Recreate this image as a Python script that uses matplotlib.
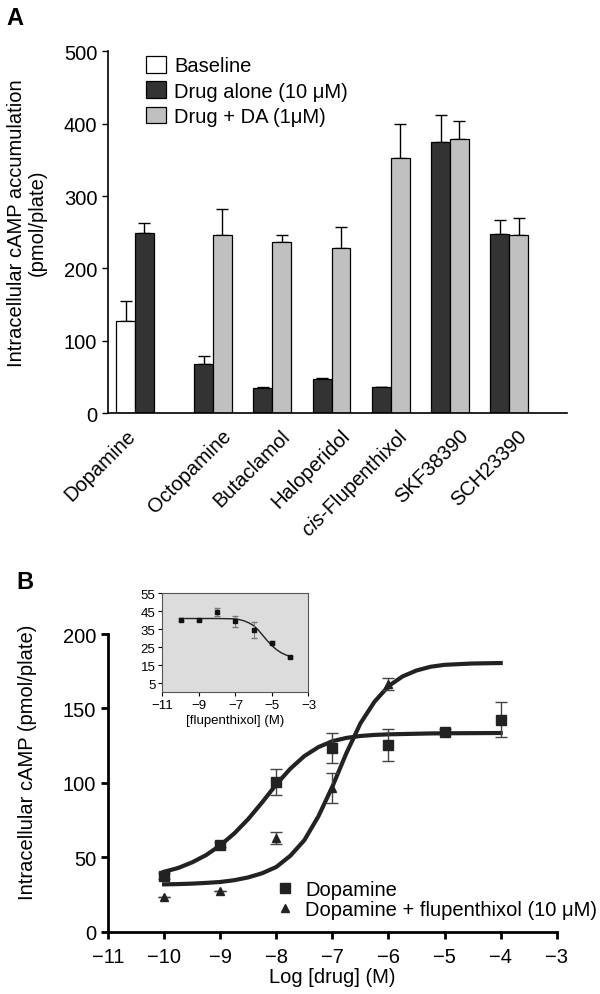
import numpy as np
import matplotlib
matplotlib.use("Agg")
import matplotlib.pyplot as plt
from matplotlib.lines import Line2D

plt.rcParams["font.family"] = ["Liberation Sans", "DejaVu Sans"]
plt.rcParams["mathtext.fontset"] = "custom"
plt.rcParams["mathtext.it"] = "Liberation Sans:italic"
plt.rcParams["mathtext.rm"] = "Liberation Sans"

FS = 14.5

# ---- panel A data ----
drugs = ["Dopamine", "Octopamine", "Butaclamol", "Haloperidol",
         r"$\it{cis}$-Flupenthixol", "SKF38390", "SCH23390"]
nan = np.nan
baseline = [127.5, nan, nan, nan, nan, nan, nan]
baseline_err = [27, nan, nan, nan, nan, nan, nan]
drug_alone = [248.5, 68, 34.5, 46.5, 35.5, 375, 247.5]
drug_alone_err = [14, 11.5, 1.5, 2, 0.5, 36.5, 19.5]
drug_da = [nan, 245.5, 236.5, 228, 352.5, 379, 245.5]
drug_da_err = [nan, 36.5, 10, 29, 46.5, 25, 24]

# ---- panel B data ----
log_conc = [-10, -9, -8, -7, -6, -5, -4]
da_mean = [37.5, 58.5, 100.5, 123.5, 125.5, 134.5, 142.5]
da_err = [2, 1.5, 8.5, 10, 11, 1.5, 12]
flu_conc = [-10, -9, -8, -7, -6]
flu_mean = [23, 27.5, 63, 96.5, 166.5]
flu_err = [0, 0, 4, 10, 4]

# fitted curves
fit_x = [-10, -9.75, -9.5, -9.25, -9, -8.75, -8.5, -8.25, -8, -7.75, -7.5,
         -7.25, -7, -6.75, -6.5, -6.25, -6, -5.75, -5.5, -5.25, -5, -4.5, -4]
da_fit = [40.3, 42.8, 46.6, 51.5, 58, 66, 75.7, 87, 99, 109.5, 118,
          124, 128, 130.2, 131.5, 132.2, 132.6, 132.8, 133, 133.2, 133.3,
          133.4, 133.5]
flu_fit = [31.8, 32, 32.3, 32.8, 33.4, 34.6, 36.5, 39.3, 43.5, 51, 61.5,
           77.5, 97.5, 120, 140, 154.5, 165, 171.5, 175.5, 178, 179.3,
           180.2, 180.5]

# ---- inset data ----
inset_conc = [-10, -9, -8, -7, -6, -5, -4]
inset_mean = [40.3, 40.0, 44.8, 39.4, 34.6, 27.6, 19.4]
inset_err = [0.8, 0.5, 2.3, 3, 4.6, 0.8, 0.5]
inset_fit_x = [-10, -9, -8, -7, -6.75, -6.5, -6.25, -6, -5.75, -5.5, -5.25,
               -5, -4.75, -4.5, -4.25, -4]
inset_fit = [41, 41, 41, 40.8, 40.3, 39.6, 38.5, 37, 34.6, 31.6, 28.6,
             25.9, 23.7, 22, 20.8, 19.9]

fig = plt.figure(figsize=(6, 9.95), dpi=100)

# ================= Panel A =================
axA = fig.add_axes([0.1795, 0.5839, 0.765, 0.3635])
w = 0.318
x = np.arange(len(drugs))
bar_kw = dict(width=w, edgecolor="black", linewidth=0.9, zorder=2)
axA.bar(x - w, baseline, color="white", label="Baseline", **bar_kw)
axA.bar(x, drug_alone, color="#333333", label="Drug alone (10 \u03bcM)", **bar_kw)
axA.bar(x + w, drug_da, color="#c0c0c0", label="Drug + DA (1\u03bcM)", **bar_kw)
for pos, vals, errs in [(x - w, baseline, baseline_err),
                        (x, drug_alone, drug_alone_err),
                        (x + w, drug_da, drug_da_err)]:
    errs = np.array(errs, dtype=float)
    axA.errorbar(pos, vals, yerr=[np.zeros_like(errs), errs], fmt="none",
                 ecolor="black", elinewidth=1, capsize=4, capthick=1, zorder=1)

axA.set_xlim(-0.62, 7.13)
axA.set_ylim(0, 500)
axA.set_yticks([0, 100, 200, 300, 400, 500])
for s in ["top", "right"]:
    axA.spines[s].set_visible(False)
for s in ["left", "bottom"]:
    axA.spines[s].set_linewidth(1.2)
# label anchors: right edge of the last filled bar in each group
label_pos = [i - w / 2 + 0.07 if i == 0 else i + 1.5 * w + 0.05 for i in x]
axA.set_xticks(label_pos)
axA.set_xticklabels(drugs, rotation=45, ha="right", rotation_mode="default")
axA.tick_params(axis="x", length=0, labelsize=FS, pad=9)
axA.tick_params(axis="y", length=4, width=1, labelsize=FS, direction="out")
axA.set_ylabel("Intracellular cAMP accumulation\n(pmol/plate)", fontsize=FS,
               linespacing=1.1)
axA.yaxis.set_label_coords(-0.133, 0.528)
axA.legend(loc="upper left", bbox_to_anchor=(0.061, 1.015), frameon=False,
           fontsize=FS, handlelength=1.0, handleheight=0.9,
           labelspacing=0.3, handletextpad=0.4, borderpad=0)
fig.text(0.01, 0.981, "A", fontsize=17, fontweight="bold", va="center")

# ================= Panel B =================
axB = fig.add_axes([0.18, 0.0626, 0.748, 0.2992])
axB.plot(fit_x, da_fit, color="#222222", lw=3, zorder=2)
axB.plot(fit_x, flu_fit, color="#222222", lw=3, zorder=2)
axB.errorbar(log_conc, da_mean, yerr=da_err, fmt="s", color="#222222",
             ms=7, ecolor="#444444", elinewidth=1, capsize=4, zorder=3)
axB.errorbar(flu_conc, flu_mean, yerr=flu_err, fmt="^", color="#222222",
             ms=6, ecolor="#444444", elinewidth=1, capsize=4, zorder=3)
axB.set_xlim(-11, -3)
axB.set_ylim(0, 200)
axB.set_xticks(range(-11, -2))
axB.set_yticks([0, 50, 100, 150, 200])
for s in ["top", "right"]:
    axB.spines[s].set_visible(False)
for s in ["left", "bottom"]:
    axB.spines[s].set_linewidth(2)
axB.tick_params(length=5, width=2, labelsize=FS, direction="out")
axB.tick_params(axis="x", pad=6)
axB.set_xlabel("Log [drug] (M)", fontsize=FS, labelpad=1)
axB.set_ylabel("Intracellular cAMP (pmol/plate)", fontsize=FS)
axB.yaxis.set_label_coords(-0.159, 0.574)
handles = [Line2D([], [], marker="s", ls="none", color="#222222", ms=7),
           Line2D([], [], marker="^", ls="none", color="#222222", ms=6)]
fig.legend(handles, ["Dopamine", "Dopamine + flupenthixol (10 \u03bcM)"],
           loc="upper left", bbox_to_anchor=(0.445, 0.125), frameon=False,
           fontsize=FS, handlelength=0.8, handletextpad=0.6,
           labelspacing=0.05, borderpad=0)
fig.text(0.028, 0.4146, "B", fontsize=17, fontweight="bold", va="center")

# ================= inset =================
axI = fig.add_axes([0.2708, 0.3032, 0.2433, 0.0995])
axI.set_facecolor("#dcdcdc")
axI.plot(inset_fit_x, inset_fit, color="#222222", lw=1, zorder=2)
axI.errorbar(inset_conc, inset_mean, yerr=inset_err, fmt="s", color="#111111",
             ms=3.5, ecolor="#777777", elinewidth=0.7, capsize=2, zorder=3)
axI.set_xlim(-11, -3)
axI.set_ylim(0, 55)
axI.set_xticks([-11, -9, -7, -5, -3])
axI.set_yticks([5, 15, 25, 35, 45, 55])
for s in axI.spines.values():
    s.set_linewidth(0.8)
    s.set_color("#555555")
axI.tick_params(length=3, width=0.8, labelsize=9.5, direction="out", pad=2)
axI.set_xlabel("[flupenthixol] (M)", fontsize=9.5, labelpad=2)

fig.savefig("out.png", dpi=100)
